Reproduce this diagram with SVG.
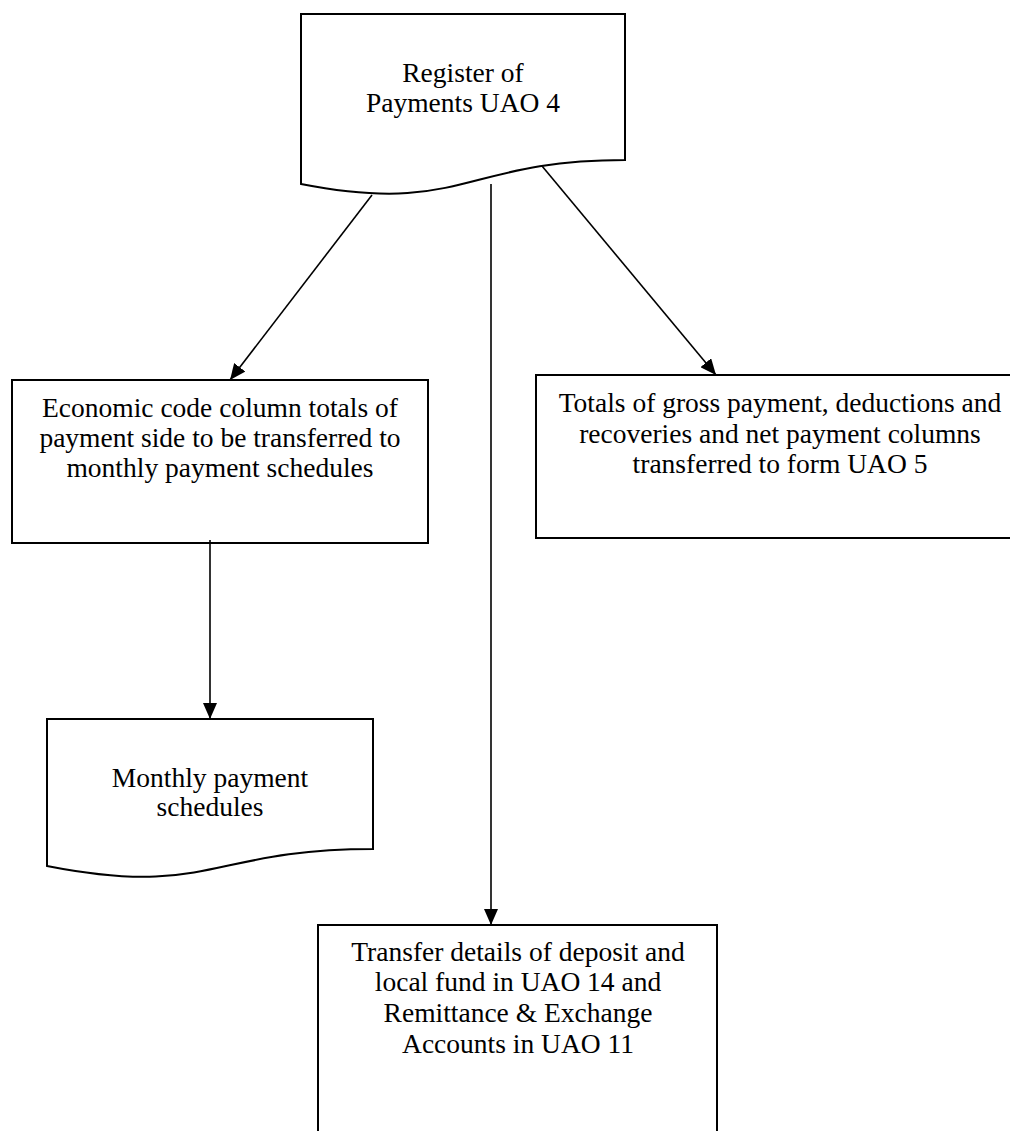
<svg xmlns="http://www.w3.org/2000/svg" width="1010" height="1131" viewBox="0 0 1010 1131">
  <style>
    .shape { fill: #ffffff; stroke: #000000; stroke-width: 2; }
    .label { font-family: "Liberation Serif", "Times New Roman", serif; font-size: 27.5px; fill: #000000; text-anchor: middle; }
    .link { fill: none; stroke: #000000; stroke-width: 1.6; marker-end: url(#arrow); }
  </style>
  <defs>
    <marker id="arrow" markerUnits="userSpaceOnUse" markerWidth="16" markerHeight="14" refX="16" refY="7" orient="auto">
      <path d="M0,0 L16,7 L0,14 Z" fill="#000000"/>
    </marker>
  </defs>

  <rect width="1010" height="1131" fill="#ffffff"/>

  <!-- Register of payments (document shape) -->
  <g id="register">
    <path class="shape" d="M301,14 L625,14 L625,160 C463,160 463,215.6 301,184 Z"/>
    <text class="label" x="463" y="82">Register of</text>
    <text class="label" x="463" y="112">Payments UAO 4</text>
  </g>

  <!-- Economic code column totals -->
  <g id="economic-totals">
    <rect class="shape" x="12" y="380" width="416" height="163"/>
    <text class="label" x="220" y="417">Economic code column totals of</text>
    <text class="label" x="220" y="447">payment side to be transferred to</text>
    <text class="label" x="220" y="477">monthly payment schedules</text>
  </g>

  <!-- Totals to form UAO 5 -->
  <g id="gross-totals">
    <rect class="shape" x="536" y="375" width="490" height="163"/>
    <text class="label" x="780" y="412">Totals of gross payment, deductions and</text>
    <text class="label" x="780" y="443">recoveries and net payment columns</text>
    <text class="label" x="780" y="473">transferred to form UAO 5</text>
  </g>

  <!-- Monthly payment schedules (document shape) -->
  <g id="monthly-schedules">
    <path class="shape" d="M47,719 L373,719 L373,849 C210,849 210,898 47,866 Z"/>
    <text class="label" x="210" y="787">Monthly payment</text>
    <text class="label" x="210" y="816">schedules</text>
  </g>

  <!-- Deposit / remittance transfer -->
  <g id="transfer-details">
    <rect class="shape" x="318" y="925" width="399" height="215"/>
    <text class="label" x="518" y="961">Transfer details of deposit and</text>
    <text class="label" x="518" y="991">local fund in UAO 14 and</text>
    <text class="label" x="518" y="1022">Remittance &amp; Exchange</text>
    <text class="label" x="518" y="1053">Accounts in UAO 11</text>
  </g>

  <!-- Connectors -->
  <g id="connectors">
    <line class="link" x1="372" y1="195" x2="230" y2="380"/>
    <line class="link" x1="542" y1="166" x2="716" y2="375"/>
    <line class="link" x1="491" y1="184" x2="491" y2="925"/>
    <line class="link" x1="210" y1="540" x2="210" y2="719"/>
  </g>
</svg>
